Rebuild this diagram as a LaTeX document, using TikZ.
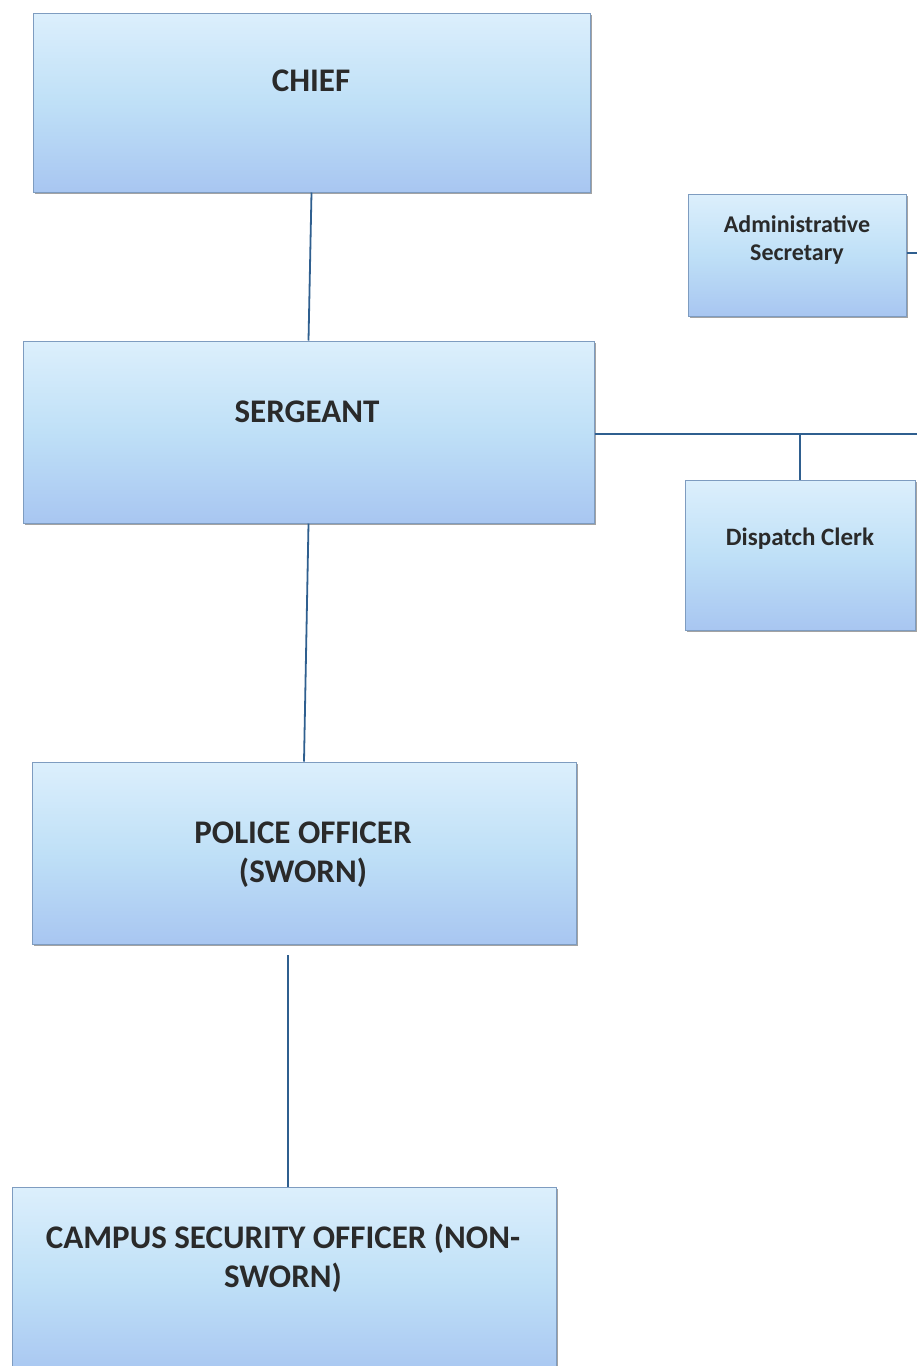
\documentclass[tikz,border=0pt]{standalone}
\usepackage{fontspec}
\setmainfont{Carlito}
\usetikzlibrary{shadows}
\definecolor{boxtop}{HTML}{DCEFFC}
\definecolor{boxmid}{HTML}{BFE0F7}
\definecolor{boxbot}{HTML}{A8C6F1}
\definecolor{boxedge}{HTML}{7E9CC0}
\definecolor{linkc}{HTML}{2F5F8F}
\definecolor{txt}{HTML}{2A2A2A}
\tikzset{
  box/.style={rectangle, draw=boxedge, line width=1pt, top color=boxtop, bottom color=boxbot, middle color=boxmid,
    drop shadow={shadow xshift=1.5pt, shadow yshift=-1.5pt, opacity=0.6, fill=black!60}, inner sep=0pt},
  biglbl/.style={font=\bfseries\fontsize{33}{39}\selectfont, text=txt, align=center},
  smalllbl/.style={font=\bfseries\fontsize{24}{28}\selectfont, text=txt, align=center},
  link/.style={draw=linkc, line width=1.8pt}
}
\begin{document}
\begin{tikzpicture}[x=1pt,y=1pt]
\useasboundingbox (0,0) rectangle (917,-1366);
% boxes
\node[box, minimum width=557pt, minimum height=179pt] (chief) at (311.5,-102.5) {};
\node[biglbl] (chieft) at (311,-81) {CHIEF};
\node[box, minimum width=218pt, minimum height=122pt] (admin) at (797,-255) {};
\node[smalllbl] (admint) at (797,-240) {Administrative\\Secretary};
\node[box, minimum width=571pt, minimum height=182pt] (sgt) at (308.5,-432) {};
\node[biglbl] (sgtt) at (307,-412) {SERGEANT};
\node[box, minimum width=230pt, minimum height=150pt] (disp) at (800,-555) {};
\node[smalllbl, font=\bfseries\fontsize{25}{30}\selectfont] (dispt) at (800,-539) {Dispatch Clerk};
\node[box, minimum width=544pt, minimum height=182pt] (po) at (304,-853) {};
\node[biglbl] (pot) at (303,-855) {POLICE OFFICER\\(SWORN)};
\node[box, minimum width=544pt, minimum height=190pt] (cso) at (284,-1282) {};
\node[biglbl] (csot) at (283,-1258) {CAMPUS SECURITY OFFICER (NON-\\SWORN)};
% connectors
\coordinate (edgeA) at (917,-253);
\coordinate (edgeS) at (917,-434);
\coordinate (poend) at (288,-955);
\draw[link] (chief.south) -- (sgt.north);
\draw[link] (sgt.east |- edgeS) -- (edgeS);
\draw[link] (disp.north) -- (disp.north |- edgeS);
\draw[link] (admin.east |- edgeA) -- (edgeA);
\draw[link] (sgt.south) -- (po.north);
\draw[link] (poend) -- (poend |- cso.north);
\end{tikzpicture}
\end{document}
